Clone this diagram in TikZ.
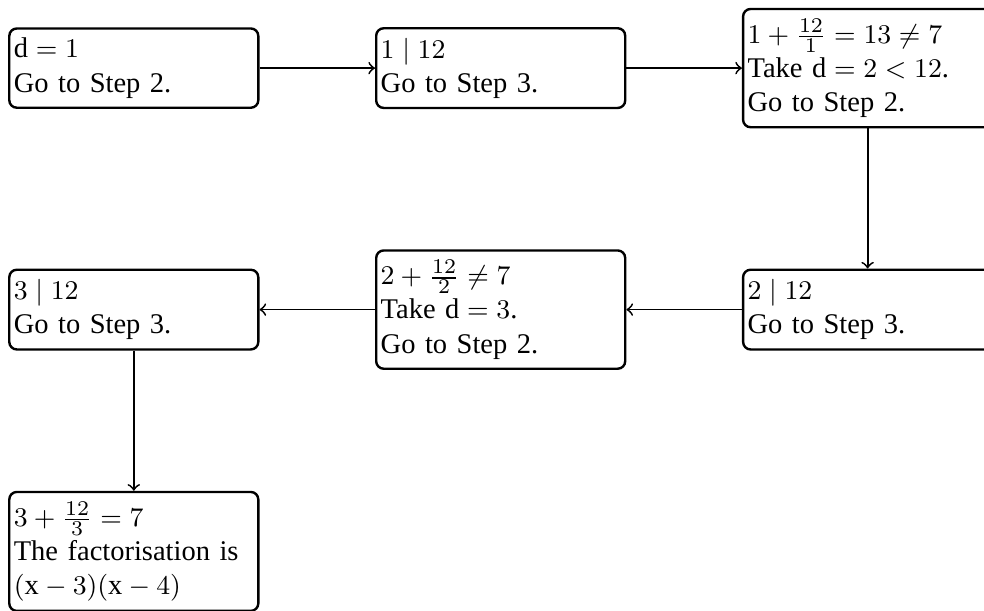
\documentclass[tikz,border=0pt]{standalone}
\usepackage{fontspec}
\setmainfont{Liberation Serif}
% digits in formulas from the text face, symbols stay as they are
\DeclareSymbolFont{textdigits}{TU}{\rmdefault}{m}{n}
\DeclareMathSymbol{0}{\mathalpha}{textdigits}{`0}
\DeclareMathSymbol{1}{\mathalpha}{textdigits}{`1}
\DeclareMathSymbol{2}{\mathalpha}{textdigits}{`2}
\DeclareMathSymbol{3}{\mathalpha}{textdigits}{`3}
\DeclareMathSymbol{4}{\mathalpha}{textdigits}{`4}
\DeclareMathSymbol{5}{\mathalpha}{textdigits}{`5}
\DeclareMathSymbol{6}{\mathalpha}{textdigits}{`6}
\DeclareMathSymbol{7}{\mathalpha}{textdigits}{`7}
\DeclareMathSymbol{8}{\mathalpha}{textdigits}{`8}
\DeclareMathSymbol{9}{\mathalpha}{textdigits}{`9}
\usetikzlibrary{positioning}

\begin{document}
\begin{tikzpicture}[
  stepbox/.style={draw, thick, rounded corners=2.5pt, text width=80pt, align=left,
    inner xsep=1.5pt, inner ysep=3.2pt, font=\fontsize{9.5}{11.4}\selectfont},
  flow/.style={->, semithick},
  node distance=46.7pt and 38.5pt]
\useasboundingbox (-44.6pt,22.7pt) rectangle (283.4pt,-180.7pt);

%Steps, top row
\node [stepbox] (start) at (0,0) {$\textrm{d}=1$\\Go to Step 2.};
\node [stepbox, right=of start] (divone) {$1\mid 12$\\Go to Step 3.};
\node [stepbox, right=of divone] (testone) {$1+\frac{12}{1}=13\neq 7$\\Take $\textrm{d}=2<12$.\\Go to Step 2.};

%Steps, middle row
\node [stepbox, below=of testone] (divtwo) {$2\mid 12$\\Go to Step 3.};
\node [stepbox, left=of divtwo] (testtwo) {$2+\frac{12}{2}\neq 7$\\Take $\textrm{d}=3$.\\Go to Step 2.};
\node [stepbox, left=of testtwo] (divthree) {$3\mid 12$\\Go to Step 3.};

%Result
\node [stepbox, below=of divthree] (result) {$3+\frac{12}{3}=7$\\The factorisation is\\$(\textrm{x}-3)(\textrm{x}-4)$};

%Arrows
\draw [flow] (start) -- (divone);
\draw [flow] (divone) -- (testone);
\draw [flow] (testone) -- (divtwo);
\draw [flow] (divtwo) -- (testtwo);
\draw [flow] (testtwo) -- (divthree);
\draw [flow] (divthree) -- (result);

\end{tikzpicture}
\end{document}
